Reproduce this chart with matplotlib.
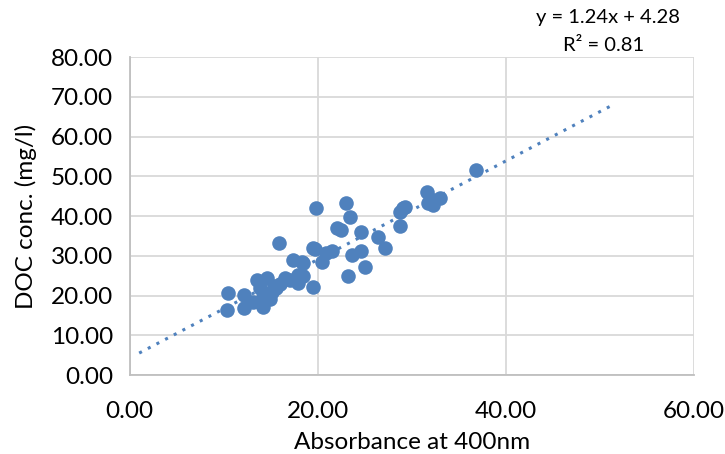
import numpy as np
import matplotlib.pyplot as plt
from matplotlib.ticker import FormatStrFormatter

# absorbance at 400nm vs DOC concentration
absorbance = [10.5, 10.3, 12.2, 12.2, 13.5, 14.6, 14.2, 14.2, 13.1, 15.1,
              16.5, 17.4, 18.3, 17.9, 17.9, 19.5, 19.5, 15.6, 17.0, 15.85,
              14.9, 13.8, 15.3, 16.0, 14.5,
              19.8, 23.0, 23.4, 22.0, 22.5, 24.6, 26.4, 27.2, 28.7, 29.1,
              19.7, 21.5, 20.9, 20.4, 23.6, 24.6, 25.0, 23.2, 18.4, 18.4,
              36.8, 31.6, 32.3, 33.0, 31.7, 32.3, 29.3, 28.7]
doc = [20.6, 16.4, 20.2, 16.8, 23.9, 24.3, 19.7, 17.2, 18.5, 21.0,
       24.3, 29.0, 28.5, 25.2, 23.1, 31.9, 22.2, 21.8, 23.9, 33.2,
       19.1, 22.0, 22.5, 23.0, 20.5,
       42.0, 43.4, 39.9, 37.0, 36.5, 36.1, 34.8, 31.9, 37.5, 42.0,
       31.7, 31.1, 30.7, 28.5, 30.2, 31.1, 27.3, 24.8, 28.1, 24.8,
       51.6, 46.1, 44.1, 44.5, 43.2, 42.8, 42.4, 41.1]

slope = 1.24
intercept = 4.28
trend_x = [1.0, 51.5]

plt.rcParams['font.family'] = ['Lato', 'DejaVu Sans']

fig = plt.figure(figsize=(7.25, 4.54), dpi=100)
ax = fig.add_axes([0.179, 0.174, 0.778, 0.700])

ax.scatter(absorbance, doc, s=110, color='#4F81BD', zorder=3, linewidths=0)
tx = np.array(trend_x)
ax.plot(tx, slope * tx + intercept, linestyle=(0, (1, 2.2)), color='#4F81BD',
        linewidth=2.2, zorder=2)

ax.set_xlim(0, 60)
ax.set_ylim(0, 80)
ax.set_xticks(np.arange(0, 61, 20))
ax.set_yticks(np.arange(0, 81, 10))
ax.xaxis.set_major_formatter(FormatStrFormatter('%.2f'))
ax.yaxis.set_major_formatter(FormatStrFormatter('%.2f'))
ax.tick_params(length=0, labelsize=17.5, colors='black', pad=12)
ax.tick_params(axis='x', pad=19)
ax.grid(True, color='#D9D9D9', linewidth=1.3)
ax.set_axisbelow(True)
for s in ['top', 'right']:
    ax.spines[s].set_visible(False)
for s in ['left', 'bottom']:
    ax.spines[s].set_color('#BFBFBF')
    ax.spines[s].set_linewidth(1.3)

ax.set_xlabel('Absorbance at 400nm', fontsize=17.5, labelpad=7)
ax.set_ylabel('DOC conc. (mg/l)', fontsize=17.5, labelpad=10)

fig.text(0.839, 0.962, 'y = 1.24x + 4.28', fontsize=14.5, ha='center', va='center')
fig.text(0.832, 0.899, 'R² = 0.81', fontsize=14.5, ha='center', va='center')

fig.savefig('out.png', dpi=100)
